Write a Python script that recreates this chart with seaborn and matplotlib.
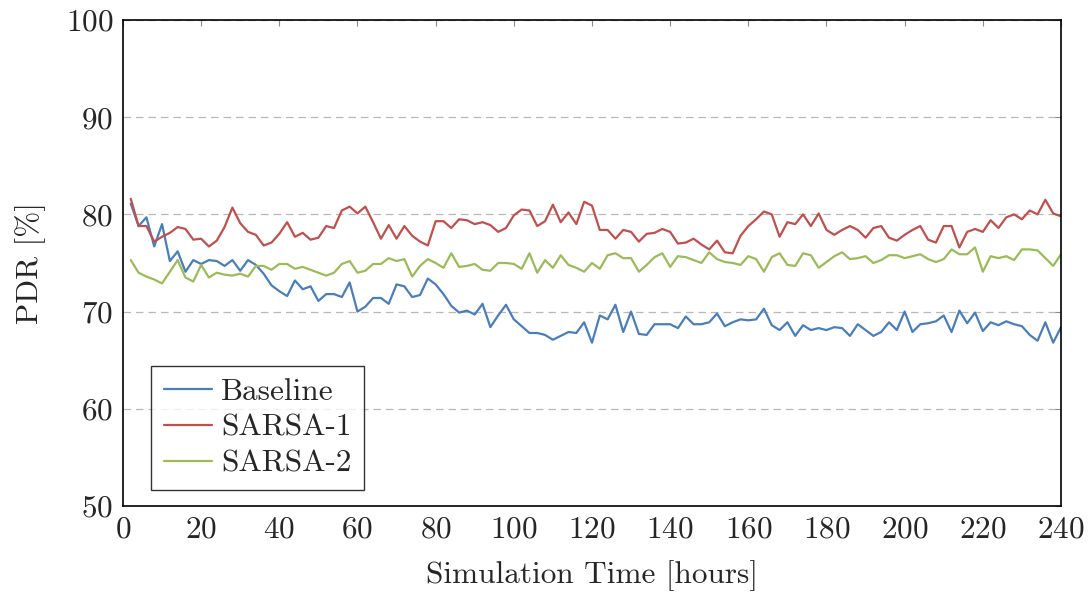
import pandas as pd
import numpy as np
import matplotlib
matplotlib.use("Agg")
import matplotlib.pyplot as plt
import seaborn as sns

# Simulation time (hours), one sample every 2 hours
hours = list(range(2, 241, 2))

# PDR [%]
baseline = [
    81.1, 78.8, 79.7, 76.7, 79.0, 75.2, 76.2, 74.1, 75.3, 74.9,
    75.3, 75.2, 74.7, 75.3, 74.2, 75.3, 74.8, 73.9, 72.7, 72.1,
    71.6, 73.2, 72.3, 72.6, 71.1, 71.8, 71.8, 71.5, 73.0, 70.0,
    70.5, 71.4, 71.4, 70.8, 72.8, 72.6, 71.5, 71.7, 73.4, 72.8,
    71.8, 70.6, 69.9, 70.1, 69.7, 70.8, 68.4, 69.6, 70.7, 69.2,
    68.5, 67.8, 67.8, 67.6, 67.1, 67.5, 67.9, 67.8, 68.9, 66.8,
    69.6, 69.2, 70.7, 67.9, 70.0, 67.7, 67.6, 68.7, 68.7, 68.7,
    68.3, 69.5, 68.7, 68.7, 68.9, 69.8, 68.5, 68.9, 69.2, 69.1,
    69.2, 70.3, 68.6, 68.1, 68.9, 67.5, 68.6, 68.1, 68.3, 68.1,
    68.4, 68.3, 67.5, 68.7, 68.1, 67.5, 67.9, 68.9, 68.1, 70.0,
    67.9, 68.7, 68.8, 69.0, 69.6, 67.9, 70.1, 68.8, 69.9, 68.0,
    68.9, 68.6, 69.0, 68.7, 68.5, 67.6, 67.0, 68.9, 66.8, 68.4,
]
sarsa1 = [
    81.6, 78.8, 78.8, 77.2, 77.7, 78.1, 78.7, 78.5, 77.4, 77.5,
    76.7, 77.3, 78.7, 80.7, 79.1, 78.2, 77.9, 76.8, 77.1, 78.0,
    79.2, 77.7, 78.1, 77.4, 77.6, 78.8, 78.6, 80.4, 80.8, 80.1,
    80.8, 79.2, 77.5, 78.9, 77.5, 78.8, 77.8, 77.2, 76.8, 79.3,
    79.3, 78.6, 79.5, 79.4, 79.0, 79.2, 78.9, 78.2, 78.6, 79.9,
    80.5, 80.4, 78.8, 79.3, 81.0, 79.2, 80.2, 79.0, 81.3, 80.9,
    78.4, 78.4, 77.5, 78.4, 78.2, 77.2, 78.0, 78.1, 78.5, 78.2,
    77.0, 77.1, 77.5, 76.9, 76.4, 77.3, 76.1, 76.0, 77.8, 78.8,
    79.5, 80.3, 80.0, 77.7, 79.2, 79.0, 80.0, 78.8, 80.1, 78.4,
    77.9, 78.4, 78.8, 78.4, 77.6, 78.6, 78.8, 77.6, 77.3, 77.9,
    78.4, 78.8, 77.4, 77.1, 78.8, 78.8, 76.6, 78.2, 78.5, 78.2,
    79.4, 78.6, 79.7, 80.0, 79.5, 80.4, 80.0, 81.5, 80.1, 79.8,
]
sarsa2 = [
    75.3, 74.0, 73.6, 73.3, 72.9, 74.1, 75.3, 73.5, 73.1, 74.8,
    73.5, 74.0, 73.8, 73.7, 73.9, 73.6, 74.7, 74.7, 74.3, 74.9,
    74.9, 74.4, 74.6, 74.3, 74.0, 73.7, 74.0, 74.9, 75.2, 74.0,
    74.2, 74.9, 74.9, 75.5, 75.2, 75.4, 73.6, 74.7, 75.4, 75.0,
    74.5, 76.0, 74.6, 74.7, 74.9, 74.3, 74.2, 75.0, 75.0, 74.9,
    74.4, 76.0, 74.0, 75.3, 74.5, 75.8, 74.8, 74.5, 74.1, 75.0,
    74.4, 75.8, 76.0, 75.5, 75.5, 74.1, 74.8, 75.6, 76.0, 74.6,
    75.7, 75.6, 75.3, 75.0, 76.1, 75.4, 75.1, 75.0, 74.8, 75.7,
    75.4, 74.1, 75.6, 76.0, 74.8, 74.7, 76.0, 75.8, 74.5, 75.1,
    75.7, 76.1, 75.4, 75.5, 75.7, 75.0, 75.3, 75.8, 75.8, 75.5,
    75.7, 75.9, 75.4, 75.1, 75.4, 76.4, 75.9, 75.9, 76.6, 74.1,
    75.7, 75.5, 75.7, 75.3, 76.4, 76.4, 76.3, 75.5, 74.7, 75.9,
]

series_names = ["Baseline", "SARSA-1", "SARSA-2"]
colors = ["#4a7ebb", "#c0504d", "#9bbb59"]

df = pd.DataFrame({
    "hours": hours * 3,
    "pdr": baseline + sarsa1 + sarsa2,
    "series": np.repeat(series_names, len(hours)),
})

sns.set_style("white")
plt.rcParams["font.family"] = ["cmr10", "DejaVu Serif"]
plt.rcParams["axes.formatter.use_mathtext"] = True
plt.rcParams["mathtext.fontset"] = "cm"

fig = plt.figure(figsize=(10.91, 5.92), dpi=100)
ax = fig.add_axes([0.1127, 0.1453, 0.8598, 0.8209])

sns.lineplot(data=df, x="hours", y="pdr", hue="series", hue_order=series_names,
             palette=colors, linewidth=1.6, ax=ax)

fs = 22.5
ax.set_xlim(0, 240)
ax.set_ylim(50, 100)
ax.set_xticks(range(0, 241, 20))
ax.set_yticks(range(50, 101, 10))
ax.set_xlabel("Simulation Time [hours]", fontsize=fs, labelpad=12)
ax.set_ylabel("PDR [%]", fontsize=fs, labelpad=14)
ax.tick_params(axis="both", direction="in", length=4, width=0.8, color="#8c8c8c",
               labelsize=fs, top=True, right=True, pad=7)
ax.yaxis.grid(True, linestyle=(0, (6, 4)), color="#b8b8b8", linewidth=0.9)
ax.xaxis.grid(False)
for s in ax.spines.values():
    s.set_color("black")
    s.set_linewidth(1.2)

leg = ax.legend(loc="lower left", bbox_to_anchor=(0.03, 0.033), borderaxespad=0,
                fontsize=fs, frameon=True, fancybox=False, edgecolor="black",
                handlelength=1.55, handletextpad=0.3, labelspacing=0.25,
                borderpad=0.4)
leg.get_frame().set_linewidth(1.0)

plt.savefig("out.png", dpi=100)
